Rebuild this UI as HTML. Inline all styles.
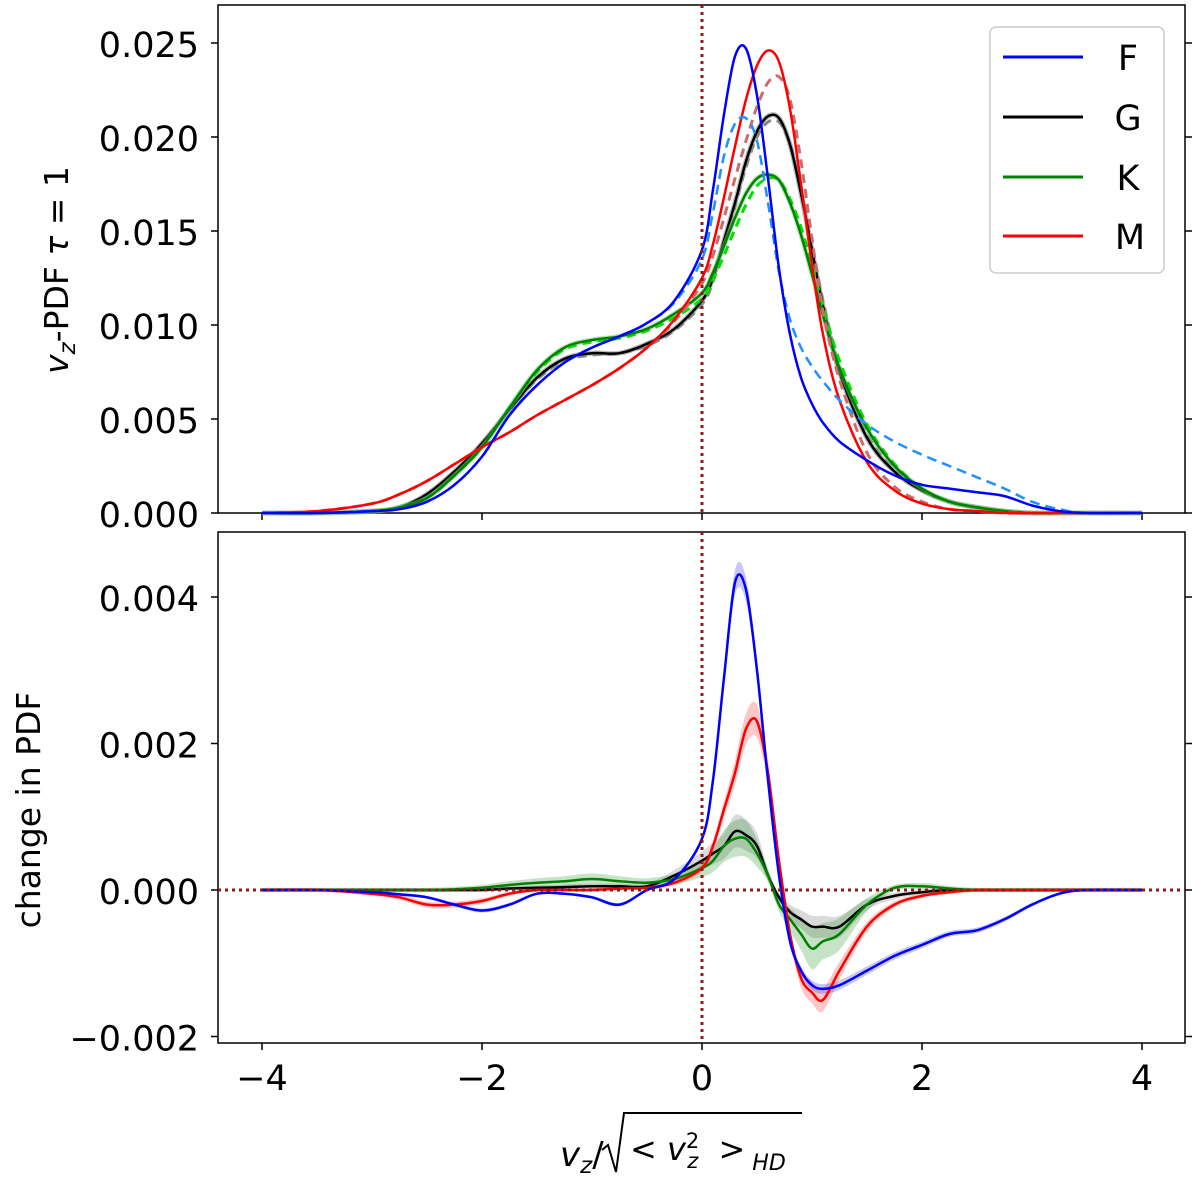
<!DOCTYPE html>
<html><head><meta charset="utf-8"><style>
html,body{margin:0;padding:0;background:#fff}
svg{display:block;font-family:"DejaVu Sans","Liberation Sans",sans-serif}
</style></head><body>
<svg id="chart" width="1200" height="1186" viewBox="0 0 1200 1186" xmlns="http://www.w3.org/2000/svg">
<g id="topPanel"></g>
<g id="botPanel"></g>
<g id="legend">
  <rect x="990" y="27" width="174" height="246" rx="6" fill="#fff" fill-opacity="0.85" stroke="#ccc" stroke-width="1.5"/>
  <g><line x1="1003" x2="1083" y1="57" y2="57" stroke="#0000ff" stroke-width="3"/><text x="1128" y="70" font-size="35" text-anchor="middle">F</text></g>
  <g><line x1="1003" x2="1083" y1="117" y2="117" stroke="#000" stroke-width="3"/><text x="1128" y="130" font-size="35" text-anchor="middle">G</text></g>
  <g><line x1="1003" x2="1083" y1="177" y2="177" stroke="#008000" stroke-width="3"/><text x="1128" y="190" font-size="35" text-anchor="middle">K</text></g>
  <g><line x1="1003" x2="1083" y1="236" y2="236" stroke="#ff0000" stroke-width="3"/><text x="1130" y="249" font-size="35" text-anchor="middle">M</text></g>
</g>
<text transform="translate(68,270) rotate(-90)" font-size="33" text-anchor="middle"><tspan font-style="italic">v</tspan><tspan font-style="italic" font-size="23" dy="7">z</tspan><tspan dy="-7">-PDF </tspan><tspan font-style="italic">τ</tspan><tspan> = 1</tspan></text>
<text transform="translate(40,810) rotate(-90)" font-size="33" text-anchor="middle">change in PDF</text>
<g>
  <text x="560" y="1166" font-size="34" font-style="italic">v<tspan font-size="23" dy="7">z</tspan><tspan dy="-7" font-style="normal">/</tspan></text>
  <path d="M602,1150 L608,1145 L616,1172 L624,1113 L802,1113" fill="none" stroke="#000" stroke-width="2"/>
  <text x="630" y="1160" font-size="32">&lt; <tspan font-style="italic">v</tspan><tspan font-size="21" dy="-12">2</tspan><tspan font-size="21" dy="20" dx="-12" font-style="italic">z</tspan><tspan dy="-8" dx="10"> &gt;</tspan><tspan font-size="22" dy="10" font-style="italic"> HD</tspan></text>
</g>
</svg>
<script>
const xs=[-4,-3.5,-3,-2.75,-2.5,-2.25,-2,-1.75,-1.5,-1.25,-1,-0.75,-0.5,-0.25,0,0.1,0.2,0.3,0.4,0.5,0.6,0.7,0.8,0.9,1.0,1.1,1.25,1.5,1.75,2,2.25,2.5,2.75,3,3.25,3.5,4];
const pdfF=[0,0,0.0001,0.0002,0.0006,0.0015,0.003,0.0052,0.0068,0.0080,0.0088,0.0094,0.0101,0.0113,0.0140,0.0172,0.0212,0.0243,0.0247,0.0222,0.0178,0.0130,0.0095,0.0072,0.0058,0.0048,0.0038,0.0028,0.0020,0.0015,0.0013,0.0011,0.0009,0.0004,0.0001,0,0];
const pdfFd=[0,0,0.0001,0.0002,0.0006,0.0015,0.003,0.0052,0.0068,0.0080,0.0088,0.0094,0.0101,0.0112,0.0135,0.0160,0.0190,0.0207,0.0210,0.0198,0.0165,0.0128,0.0103,0.0088,0.0078,0.0070,0.0060,0.0047,0.0038,0.0031,0.0025,0.0019,0.0013,0.0006,0.0002,0,0];
const pdfG=[0,0,0.0001,0.0003,0.0010,0.0022,0.0037,0.0055,0.0072,0.0082,0.0085,0.0085,0.0090,0.0098,0.0113,0.0125,0.0145,0.0165,0.0187,0.0203,0.0211,0.0210,0.0196,0.0170,0.0140,0.0110,0.0075,0.0040,0.0022,0.0012,0.0006,0.0003,0.0001,0,0,0,0];
const pdfGd=[0,0,0.0001,0.0003,0.0010,0.0022,0.0037,0.0055,0.0071,0.0081,0.0084,0.0085,0.0089,0.0097,0.0111,0.0123,0.0143,0.0163,0.0184,0.0200,0.0208,0.0208,0.0196,0.0172,0.0143,0.0113,0.0078,0.0042,0.0023,0.0012,0.0006,0.0003,0.0001,0,0,0,0];
const pdfK=[0,0,0.0001,0.0003,0.0008,0.0020,0.0035,0.0056,0.0076,0.0088,0.0092,0.0094,0.0098,0.0106,0.0117,0.0128,0.0142,0.0157,0.0170,0.0178,0.0180,0.0177,0.0165,0.0148,0.0127,0.0105,0.0077,0.0045,0.0025,0.0013,0.0006,0.0003,0.0001,0,0,0,0];
const pdfKd=[0,0,0.0001,0.0003,0.0008,0.0020,0.0035,0.0056,0.0075,0.0087,0.0091,0.0093,0.0097,0.0104,0.0114,0.0124,0.0137,0.0151,0.0164,0.0174,0.0178,0.0177,0.0167,0.0152,0.0132,0.0110,0.0081,0.0047,0.0026,0.0013,0.0006,0.0003,0.0001,0,0,0,0];
const pdfM=[0,0.0001,0.0005,0.0010,0.0017,0.0026,0.0035,0.0043,0.0052,0.0060,0.0068,0.0077,0.0088,0.0103,0.0125,0.0143,0.0168,0.0195,0.0220,0.0238,0.0246,0.0240,0.0215,0.0175,0.0132,0.0095,0.0060,0.0027,0.0012,0.0005,0.0002,0.0001,0,0,0,0,0];
const pdfMd=[0,0.0001,0.0005,0.0010,0.0017,0.0026,0.0035,0.0043,0.0052,0.0060,0.0068,0.0077,0.0088,0.0102,0.0122,0.0137,0.0157,0.0178,0.0198,0.0216,0.0229,0.0232,0.0220,0.0187,0.0146,0.0107,0.0071,0.0032,0.0014,0.0006,0.0002,0.0001,0,0,0,0,0];
const dF=[0,0,-0.00003,-0.00006,-0.0001,-0.0002,-0.00028,-0.0002,-0.00005,-0.00005,-0.0001,-0.0002,0,0.00015,0.0007,0.0015,0.0029,0.0042,0.0041,0.0030,0.0015,0.0002,-0.0007,-0.0011,-0.0013,-0.00135,-0.0013,-0.0011,-0.0009,-0.00075,-0.0006,-0.00055,-0.0004,-0.0002,-0.00005,0,0];
const dG=[0,0,0,0,0,0,0,0.00002,0.00003,0.00004,0.00005,0.00005,0.00005,0.0002,0.0004,0.0005,0.0006,0.0008,0.00075,0.0006,0.0002,-0.0001,-0.0003,-0.0004,-0.0005,-0.0005,-0.0005,-0.0002,-0.00008,-0.00003,0,0,0,0,0,0,0];
const dK=[0,0,0,0,0,0.00001,0.00003,0.00007,0.0001,0.00012,0.00015,0.00012,0.0001,0.00015,0.0003,0.0004,0.0006,0.0007,0.0007,0.0005,0.0002,-0.0002,-0.0004,-0.0006,-0.0008,-0.0007,-0.0006,-0.0002,0.00003,0.00005,0.00002,0,0,0,0,0,0];
const dM=[0,0,-0.00005,-0.0001,-0.0002,-0.0002,-0.00015,-0.00005,0,0,0,0.00002,0.00003,0.0001,0.0003,0.0006,0.0011,0.0016,0.0022,0.0023,0.0016,0.0004,-0.0006,-0.0012,-0.0014,-0.0015,-0.0011,-0.0005,-0.0002,-0.00008,-0.00003,0,0,0,0,0,0];
const errF=0.00015, errG=0.0002, errK=0.00025, errM=0.0002;
const xTicks=[-4,-2,0,2,4];
const xTickLabels=["\u22124","\u22122","0","2","4"];
const topTicks=[0,0.005,0.01,0.015,0.02,0.025];
const topTickLabels=["0.000","0.005","0.010","0.015","0.020","0.025"];
const botTicks=[-0.002,0,0.002,0.004];
const botTickLabels=["\u22120.002","0.000","0.002","0.004"];

const NS="http://www.w3.org/2000/svg";
const X0=218,X1=1185;
const sx=v=>702+v*110;
const syT=v=>513-v*18800;
const syB=v=>890-v*73250;
function mk(parent,tag,attrs){const e=document.createElementNS(NS,tag);for(const k in attrs)e.setAttribute(k,attrs[k]);parent.appendChild(e);return e;}
function pts(ys,sy){return xs.map((x,i)=>[sx(x),sy(ys[i])]);}
function smooth(p){let d="M"+p[0][0].toFixed(1)+","+p[0][1].toFixed(1);
 for(let i=0;i<p.length-1;i++){const p0=p[Math.max(i-1,0)],p1=p[i],p2=p[i+1],p3=p[Math.min(i+2,p.length-1)];
  const c1=[p1[0]+(p2[0]-p0[0])/6,p1[1]+(p2[1]-p0[1])/6],c2=[p2[0]-(p3[0]-p1[0])/6,p2[1]-(p3[1]-p1[1])/6];
  d+=" C"+c1[0].toFixed(1)+","+c1[1].toFixed(1)+" "+c2[0].toFixed(1)+","+c2[1].toFixed(1)+" "+p2[0].toFixed(1)+","+p2[1].toFixed(1);}
 return d;}
function bandPath(ys,err,sy){const m=Math.max(...ys.map(Math.abs))||1;
 const e=ys.map(v=>err*(0.12+Math.abs(v)/m));
 const up=pts(ys.map((v,i)=>v+e[i]),sy),dn=pts(ys.map((v,i)=>v-e[i]),sy).reverse();
 return smooth(up)+" L"+smooth(dn).slice(1)+" Z";}

function axes(g,y0,y1,ticks,labels,sy,name){
 mk(g,"rect",{x:X0,y:y0,width:X1-X0,height:y1-y0,fill:"none",stroke:"#000","stroke-width":1.5});
 ticks.forEach((t,i)=>{const y=sy(t);
  mk(g,"line",{x1:X0-7,x2:X0,y1:y,y2:y,stroke:"#000","stroke-width":1.5});
  mk(g,"line",{x1:X1,x2:X1+7,y1:y,y2:y,stroke:"#000","stroke-width":1.5});
  const tx=mk(g,"text",{x:199,y:y+14,"font-size":35,"text-anchor":"end"});tx.textContent=labels[i];
  
  
 });
 xTicks.forEach(t=>{mk(g,"line",{x1:sx(t),x2:sx(t),y1:y1,y2:y1+7,stroke:"#000","stroke-width":1.5});});
}
function line(g,ys,sy,color,w,dash,name,op){const e=mk(g,"path",{d:smooth(pts(ys,sy)),fill:"none",stroke:color,"stroke-width":w,"stroke-linejoin":"round"});
 if(dash)e.setAttribute("stroke-dasharray",dash); if(op)e.setAttribute("stroke-opacity",op);
 
 }
function band(g,ys,err,sy,color,name){const e=mk(g,"path",{d:bandPath(ys,err,sy),fill:color,"fill-opacity":0.22,stroke:"none"});
 
 }

const topG=document.getElementById("topPanel"),botG=document.getElementById("botPanel");
axes(topG,5,513,topTicks,topTickLabels,syT,"top");
line(topG,pdfG,syT,"#777",5,null,"g-halo",0.5);
line(topG,pdfGd,syT,"#888",3,"9,6","g-dashed");
line(topG,pdfG,syT,"#000",2.5,null,"g-line");
line(topG,pdfK,syT,"#7c7",5,null,"k-halo",0.5);
line(topG,pdfKd,syT,"#00e000",3,"9,6","k-dashed");
line(topG,pdfK,syT,"#008000",2.5,null,"k-line");
line(topG,pdfMd,syT,"#cd6a6a",3,"9,6","m-dashed");
line(topG,pdfM,syT,"#ff0000",2.5,null,"m-line");
line(topG,pdfFd,syT,"#1e90ff",2.5,"10,6","f-dashed");
line(topG,pdfF,syT,"#0000ff",2.5,null,"f-line");
mk(topG,"line",{x1:702,x2:702,y1:5,y2:513,stroke:"#8b1a1a","stroke-width":3,"stroke-dasharray":"3,4"});

axes(botG,532,1043,botTicks,botTickLabels,syB,"bottom");
band(botG,dG,errG,syB,"#555","g-band");
band(botG,dK,errK,syB,"#008000","k-band");
band(botG,dM,errM,syB,"#ff0000","m-band");
band(botG,dF,errF,syB,"#0000ff","f-band");
line(botG,dG,syB,"#000",2.5,null,"g-change-line");
line(botG,dK,syB,"#008000",2.5,null,"k-change-line");
line(botG,dM,syB,"#ff0000",2.5,null,"m-change-line");
line(botG,dF,syB,"#0000ff",2.5,null,"f-change-line");
mk(botG,"line",{x1:702,x2:702,y1:532,y2:1043,stroke:"#8b1a1a","stroke-width":3,"stroke-dasharray":"3,4"});
mk(botG,"line",{x1:X0,x2:X1,y1:syB(0),y2:syB(0),stroke:"#8b1a1a","stroke-width":3,"stroke-dasharray":"3,4"});
xTicks.forEach((t,i)=>{const tx=mk(botG,"text",{x:sx(t),y:1090,"font-size":35,"text-anchor":"middle"});tx.textContent=xTickLabels[i];
 
 });
</script>
</body></html>
